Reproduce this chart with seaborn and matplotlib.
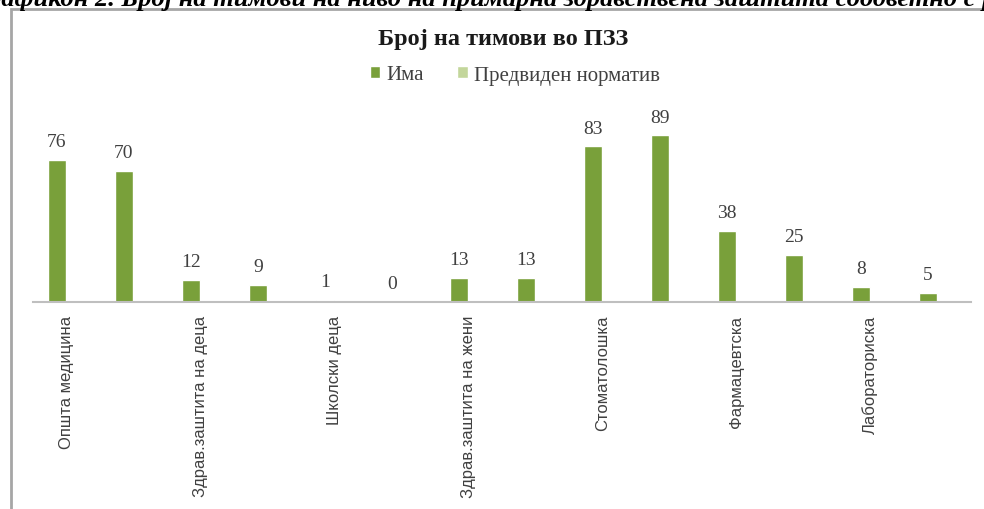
import matplotlib
matplotlib.use("Agg")
import matplotlib.pyplot as plt
import matplotlib.patches as mpatches
import seaborn as sns
import pandas as pd

# ---- data ----
tick_labels = ["Општа медицина", "", "Здрав.заштита на деца", "", "Школски деца", "",
               "Здрав.заштита на жени", "", "Стоматолошка", "", "Фармацевтска", "",
               "Лабораториска", ""]
ima = [76, 70, 12, 9, 1, 0, 13, 13, 83, 89, 38, 25, 8, 5]
normativ = [0, 0, 0, 0, 0, 0, 0, 0, 0, 0, 0, 0, 0, 0]
series_names = ["Има", "Предвиден норматив"]
title = "Број на тимови во ПЗЗ"
caption = "Графикон 2. Број на тимови на ниво на примарна здравствена заштита соодветно с р"

keys = [f"c{i}" for i in range(len(ima))]
df = pd.DataFrame({
    "cat": keys * 2,
    "series": [series_names[0]] * len(ima) + [series_names[1]] * len(normativ),
    "value": ima + normativ,
})

sns.set_theme(style="white")
plt.rcParams["font.family"] = ["Liberation Serif", "DejaVu Serif"]

fig = plt.figure(figsize=(9.84, 5.10), dpi=100)
ax = fig.add_axes([32.7 / 984, 207 / 510, 938 / 984, 193 / 510])

sns.barplot(data=df, x="cat", y="value", hue="series", order=keys,
            hue_order=series_names, palette=["#79A03A", "#C3D69B"],
            width=0.55, saturation=1, ax=ax, errorbar=None)

ax.set_ylim(0, 103)
ax.set_xlim(-0.5, len(keys) - 0.5)
ax.set_xlabel("")
ax.set_ylabel("")
ax.set_yticks([])
for s in ["top", "right", "left"]:
    ax.spines[s].set_visible(False)
ax.spines["bottom"].set_color("#BFBFBF")
ax.spines["bottom"].set_linewidth(1.5)

ax.set_xticks(range(len(keys)))
ax.set_xticklabels(tick_labels, rotation=90, fontsize=12,
                   family=["Liberation Sans", "DejaVu Sans"], color="#404040")
ax.tick_params(axis="x", length=0, pad=9)

ax.bar_label(ax.containers[0], labels=[str(v) for v in ima], padding=7,
             fontsize=14, color="#404040")

handles, labels = ax.get_legend_handles_labels()
if ax.get_legend() is not None:
    ax.get_legend().remove()
fig.legend(handles[:2], labels[:2], loc="center", bbox_to_anchor=(515 / 984, 1 - 76 / 510),
           ncol=2, frameon=False, fontsize=15, handlelength=0.5, handleheight=0.5,
           handletextpad=0.3, columnspacing=1.6, labelcolor="#404040")

fig.text(503 / 984, 1 - 40 / 510, title, ha="center", va="center",
         fontsize=17.5, fontweight="bold", color="#1a1a1a")

fig.text(-27 / 984, 1 - 6 / 510, caption, ha="left", va="baseline",
         fontsize=19, fontweight="bold", fontstyle="italic", color="black")

frame = mpatches.Rectangle((11 / 984, -0.1), 1.2, 1 - 10 / 510 + 0.1,
                           transform=fig.transFigure, fill=False,
                           edgecolor="#A6A6A6", linewidth=2, clip_on=False)
fig.patches.append(frame)

fig.savefig("out.png", dpi=100)
